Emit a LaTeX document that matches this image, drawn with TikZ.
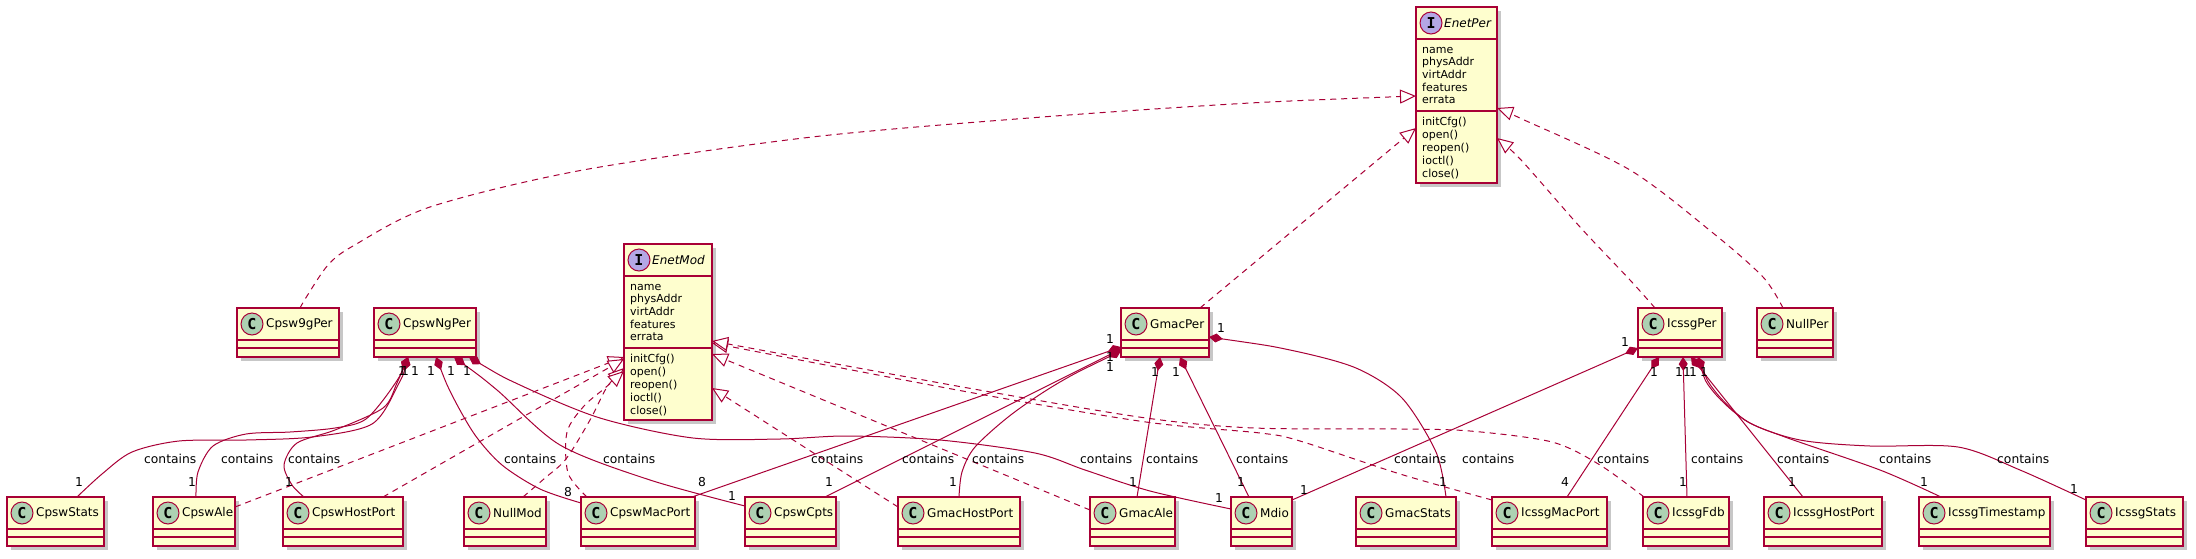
\documentclass[tikz,border=0pt]{standalone}
\usepackage{fontspec}
\setmainfont{DejaVu Sans}
\newfontfamily\badgefont{DejaVu Sans Mono}
\usetikzlibrary{arrows.meta,shadows}
\definecolor{umlred}{HTML}{A80036}
\definecolor{umlfill}{HTML}{FEFECE}
\definecolor{cgreen}{HTML}{ADD1B2}
\definecolor{ipurple}{HTML}{B4A7E5}
\tikzset{
 clsbox/.style={rectangle, draw=umlred, fill=umlfill, line width=1.5pt, inner sep=0pt, outer sep=0pt,
   drop shadow={shadow xshift=4pt, shadow yshift=-4pt, fill=black, opacity=0.22}},
 clsline/.style={draw=umlred, line width=1.5pt},
 circbadge/.style={circle, draw=umlred, line width=1pt, minimum size=22pt, inner sep=0pt,
   font=\badgefont\bfseries\fontsize{15}{15}\selectfont},
 clsname/.style={font=\fontsize{12}{14}\selectfont, inner sep=0pt, anchor=west},
 memb/.style={font=\fontsize{11}{13}\selectfont, inner sep=0pt, anchor=base west},
 lbl/.style={font=\fontsize{12.3}{14}\selectfont, inner sep=0pt},
 comp/.style={draw=umlred, line width=1pt, {Diamond[length=14pt,width=9pt,fill=umlred]}-},
 real/.style={draw=umlred, line width=1pt, dash pattern=on 6pt off 5pt,
   -{Triangle[open,length=16pt,width=14pt,fill=white]}},
}
\newcommand\umlclass[4]{%
  \node[clsbox, minimum width={(#3-#2)*1pt}, minimum height=49pt, anchor=north west] (#1) at (#2,#4) {};
  \draw[clsline] ([yshift=-32pt]#1.north west) -- ([yshift=-32pt]#1.north east);
  \draw[clsline] ([yshift=-40pt]#1.north west) -- ([yshift=-40pt]#1.north east);
  \node[circbadge, fill=cgreen] (#1-c) at ([xshift=15pt,yshift=-16pt]#1.north west) {C};
  \node[clsname] (#1-t) at ([xshift=29pt,yshift=-16pt]#1.north west) {#1};
}
\newcommand\umliface[4]{%
  \node[clsbox, minimum width={(#3-#2)*1pt}, minimum height=176pt, anchor=north west] (#1) at (#2,#4) {};
  \draw[clsline] ([yshift=-32pt]#1.north west) -- ([yshift=-32pt]#1.north east);
  \draw[clsline] ([yshift=-104pt]#1.north west) -- ([yshift=-104pt]#1.north east);
  \node[circbadge, fill=ipurple] (#1-c) at ([xshift=15pt,yshift=-16pt]#1.north west) {I};
  \node[clsname] (#1-t) at ([xshift=28pt,yshift=-16pt]#1.north west) {\itshape #1};
  \foreach \mtext [count=\i] in {name,physAddr,virtAddr,features,errata}
    \node[memb] (#1-a\i) at ([xshift=6pt,yshift={-46pt-12.7pt*(\i-1)}]#1.north west) {\mtext};
  \foreach \mtext [count=\i] in {initCfg(),open(),reopen(),ioctl(),close()}
    \node[memb] (#1-m\i) at ([xshift=6pt,yshift={-118pt-13pt*(\i-1)}]#1.north west) {\mtext};
}
\begin{document}
\begin{tikzpicture}[x=1pt,y=-1pt]
\useasboundingbox (0,0) rectangle (2196,558);
% interfaces
\umliface{EnetPer}{1416}{1497}{7}
\umliface{EnetMod}{624}{712}{244}
% top row
\umlclass{Cpsw9gPer}{237}{339}{308}
\umlclass{CpswNgPer}{374}{476}{308}
\umlclass{GmacPer}{1121}{1209}{308}
\umlclass{IcssgPer}{1638}{1722}{308}
\umlclass{NullPer}{1757}{1833}{308}
% bottom row
\umlclass{CpswStats}{7}{104}{497}
\umlclass{CpswAle}{153}{235}{497}
\umlclass{CpswHostPort}{283}{403}{497}
\umlclass{NullMod}{464}{546}{497}
\umlclass{CpswMacPort}{581}{695}{497}
\umlclass{CpswCpts}{745}{836}{497}
\umlclass{GmacHostPort}{898}{1020}{497}
\umlclass{GmacAle}{1090}{1175}{497}
\umlclass{Mdio}{1231}{1292}{497}
\umlclass{GmacStats}{1356}{1456}{497}
\umlclass{IcssgMacPort}{1492}{1607}{497}
\umlclass{IcssgFdb}{1643}{1729}{497}
\umlclass{IcssgHostPort}{1764}{1882}{497}
\umlclass{IcssgTimestamp}{1919}{2050}{497}
\umlclass{IcssgStats}{2086}{2183}{497}

% realizations of EnetPer
\draw[real] plot[smooth] coordinates {([xshift=63pt]Cpsw9gPer.north west) (307,296) (328,265) (353,246) (430,207) (583,170) (812,137) (1042,117) (1250,103) ([yshift=-89pt]EnetPer.north west)};
\draw[real] ([xshift=79pt]GmacPer.north west) -- ([yshift=-121pt]EnetPer.north west);
\draw[real] plot[smooth] coordinates {([xshift=17pt]IcssgPer.north west) (1630,280) (1580,227) (1522,161) ([yshift=-131pt]EnetPer.north east)};
\draw[real] plot[smooth] coordinates {([xshift=26pt]NullPer.north west) (1763,277) (1713,233) (1630,170) (1522,119) ([yshift=-101pt]EnetPer.north east)};

% realizations of EnetMod
\draw[real] ([yshift=-10pt]CpswAle.north east) -- ([yshift=-113pt]EnetMod.north west);
\draw[real] ([xshift=100pt]CpswHostPort.north west) -- ([yshift=-115pt]EnetMod.north west);
\draw[real] plot[smooth] coordinates {([xshift=59pt]NullMod.north west) (545,478) (566,459) (590,420) (607,387) ([yshift=-124pt]EnetMod.north west)};
\draw[real] plot[smooth] coordinates {([xshift=6pt]CpswMacPort.north west) (568,473) (567,432) (584,406) (605,388) ([yshift=-127pt]EnetMod.north west)};
\draw[real] ([yshift=-10pt]GmacHostPort.north west) -- ([yshift=-144pt]EnetMod.north east);
\draw[real] ([yshift=-13pt]GmacAle.north west) -- ([yshift=-110pt]EnetMod.north east);
\draw[real] plot[smooth] coordinates {([yshift=-3pt]IcssgMacPort.north west) (1400,474) (1300,441) (1260,433) (1146,422) (968,392) ([yshift=-99pt]EnetMod.north east)};
\draw[real] plot[smooth] coordinates {([xshift=1pt]IcssgFdb.north west) (1600,465) (1552,442) (1470,431) (1400,429) (1254,428) (1146,418) (968,388) ([yshift=-97pt]EnetMod.north east)};

% compositions from CpswNgPer
\draw[comp] plot[smooth] coordinates {([xshift=34pt]CpswNgPer.south west) (398,385) (372,424) (312,437) (246,440) (179,441) (132,452) (102,474) ([xshift=70pt]CpswStats.north west)};
\draw[comp] plot[smooth] coordinates {([xshift=34pt]CpswNgPer.south west) (394,385) (366,419) (335,428) (290,432) (246,434) (213,446) (198,472) ([xshift=43pt]CpswAle.north west)};
\draw[comp] plot[smooth] coordinates {([xshift=34pt]CpswNgPer.south west) (397,383) (383,408) (335,430) (297,443) (284,465) (292,485) ([xshift=21pt]CpswHostPort.north west)};
\draw[comp] plot[smooth] coordinates {([xshift=62pt]CpswNgPer.south west) (452,395) (475,435) (502,465) (540,489) ([yshift=-6pt]CpswMacPort.north west)};
\draw[comp] plot[smooth] coordinates {([xshift=80pt]CpswNgPer.south west) (497,390) (560,445) (650,480) ([yshift=-9pt]CpswCpts.north west)};
\draw[comp] plot[smooth] coordinates {([xshift=95pt]CpswNgPer.south west) (520,385) (600,418) (693,438) (780,439) (847,436) (940,440) (1035,453) (1085,470) (1150,491) ([yshift=-12pt]Mdio.north west)};

% compositions from GmacPer
\draw[comp] ([yshift=-39pt]GmacPer.north west) -- ([xshift=111pt]CpswMacPort.north west);
\draw[comp] ([yshift=-41pt]GmacPer.north west) -- ([xshift=80pt]CpswCpts.north west);
\draw[comp] plot[smooth] coordinates {([yshift=-43pt]GmacPer.north west) (1060,382) (1012,414) (975,447) (962,472) ([xshift=61pt]GmacHostPort.north west)};
\draw[comp] ([xshift=39pt]GmacPer.south west) -- ([xshift=47pt]GmacAle.north west);
\draw[comp] ([xshift=59pt]GmacPer.south west) -- ([xshift=18pt]Mdio.north west);
\draw[comp] plot[smooth] coordinates {([yshift=-29pt]GmacPer.north east) (1290,350) (1356,368) (1402,398) (1436,452) ([xshift=90pt]GmacStats.north west)};

% compositions from IcssgPer
\draw[comp] ([yshift=-40pt]IcssgPer.north west) -- ([yshift=-3pt]Mdio.north east);
\draw[comp] ([xshift=21pt]IcssgPer.south west) -- ([xshift=75pt]IcssgMacPort.north west);
\draw[comp] ([xshift=45pt]IcssgPer.south west) -- ([xshift=44pt]IcssgFdb.north west);
\draw[comp] ([xshift=53pt]IcssgPer.south west) -- ([xshift=39pt]IcssgHostPort.north west);
\draw[comp] plot[smooth] coordinates {([xshift=60pt]IcssgPer.south west) (1714,390) (1745,420) (1785,437) (1880,470) ([xshift=22pt]IcssgTimestamp.north west)};
\draw[comp] plot[smooth] coordinates {([xshift=60pt]IcssgPer.south west) (1712,390) (1748,422) (1800,440) (1870,446) (1958,447) (2020,470) ([yshift=-3pt]IcssgStats.north west)};

% multiplicities
\foreach \px/\py/\mtext [count=\k] in {
  402/371/1, 405/371/1, 415/371/1, 431/371/1, 451/371/1, 467/371/1,
  1110/339/1, 1110/357/1, 1110/367/1, 1155/372/1, 1176/372/1, 1221/328/1,
  1625/342/1, 1654/372/1, 1679/372/1, 1687/372/1, 1693/372/1, 1704/372/1,
  79/482/1, 192/482/1, 289/482/1, 568/492/8, 702/482/8, 732/496/1, 829/482/1,
  953/482/1, 1133/482/1, 1219/498/1, 1241/482/1, 1304/490/1, 1443/482/1,
  1565/482/4, 1683/482/1, 1792/482/1, 1924/482/1, 2074/489/1}
  \node[lbl] (mult\k) at (\px,\py) {\mtext};

% contains labels
\foreach \px [count=\k] in {144,221,288,504,603,811,902,972,1080,1146,1236,1394,1462,1597,1691,1777,1879,1997}
  \node[lbl, anchor=west] (cont\k) at (\px,459) {contains};
\end{tikzpicture}
\end{document}
